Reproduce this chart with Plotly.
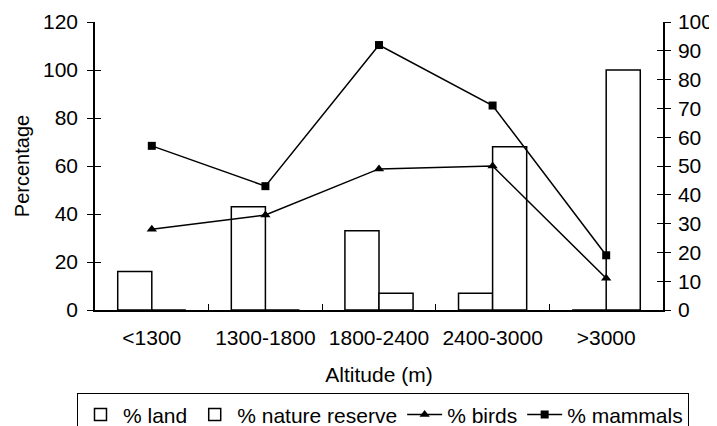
import plotly.graph_objects as go

altitudes = ["<1300", "1300-1800", "1800-2400", "2400-3000", ">3000"]
land = [16, 43, 33, 7, 0]
reserve = [0, 0, 7, 68, 100]
birds = [28, 33, 49, 50, 11]
mammals = [57, 43, 92, 71, 19]

left_ticks = [0, 20, 40, 60, 80, 100, 120]
right_ticks = [0, 10, 20, 30, 40, 50, 60, 70, 80, 90, 100]

police = dict(family="Liberation Sans, Arial", size=21, color="black")

fig = go.Figure()

fig.add_trace(go.Bar(
    x=altitudes, y=land, name="% land",
    marker=dict(color="white", line=dict(color="black", width=1.5)),
))
fig.add_trace(go.Bar(
    x=altitudes, y=reserve, name="% nature reserve",
    marker=dict(color="white", line=dict(color="black", width=1.5)),
))
fig.add_trace(go.Scatter(
    x=altitudes, y=birds, name="% birds", yaxis="y2",
    mode="lines+markers",
    line=dict(color="black", width=1.5),
    marker=dict(symbol="triangle-up", size=9, color="black"),
))
fig.add_trace(go.Scatter(
    x=altitudes, y=mammals, name="% mammals", yaxis="y2",
    mode="lines+markers",
    line=dict(color="black", width=1.5),
    marker=dict(symbol="square", size=8, color="black"),
))

# axes fantomes pour les graduations qui traversent l'axe
fig.add_trace(go.Scatter(x=[], y=[], yaxis="y3", showlegend=False))
fig.add_trace(go.Scatter(x=[], y=[], yaxis="y4", showlegend=False))

# la page a une marge de 8 px : tout est decale de 8 px
# la legende deborde en bas comme sur l'original (hauteur 440)
fig.update_layout(
    width=717, height=440,
    margin=dict(l=87, r=62, t=14, b=136),
    paper_bgcolor="white", plot_bgcolor="white",
    font=police,
    barmode="group", bargap=0.4, bargroupgap=0,
    xaxis=dict(
        type="category", showline=True, linecolor="black", linewidth=1.5,
        ticks="inside", tickson="boundaries", ticklen=6, tickcolor="black",
        ticklabelstandoff=8, automargin=False,
        title=dict(text="Altitude (m)", font=dict(size=21), standoff=19),
        showgrid=False, zeroline=False,
    ),
    yaxis=dict(
        range=[0, 120], tickvals=left_ticks, showline=True, linecolor="black",
        linewidth=1.5, ticks="outside", ticklen=6, tickcolor="black",
        ticklabelstandoff=5, showgrid=False, zeroline=False, automargin=False,
        title=dict(text="Percentage", font=dict(size=20), standoff=8),
    ),
    yaxis2=dict(
        range=[0, 100], tickvals=right_ticks, overlaying="y", side="right",
        showline=True, linecolor="black", linewidth=1.5, ticks="outside",
        ticklen=6, tickcolor="black", ticklabelstandoff=3, automargin=False,
        showgrid=False, zeroline=False,
    ),
    yaxis3=dict(
        range=[0, 120], tickvals=left_ticks, overlaying="y", side="left",
        ticks="inside", ticklen=6, tickcolor="black", showticklabels=False,
        showgrid=False, zeroline=False, showline=False,
    ),
    yaxis4=dict(
        range=[0, 100], tickvals=right_ticks, overlaying="y", side="right",
        ticks="inside", ticklen=6, tickcolor="black", showticklabels=False,
        showgrid=False, zeroline=False, showline=False,
    ),
    legend=dict(
        orientation="h", x=-0.0317, y=-0.2897, xanchor="left", yanchor="top",
        bordercolor="black", borderwidth=1, itemwidth=35,
        traceorder="normal",
    ),
)

fig.write_html("out.html")
